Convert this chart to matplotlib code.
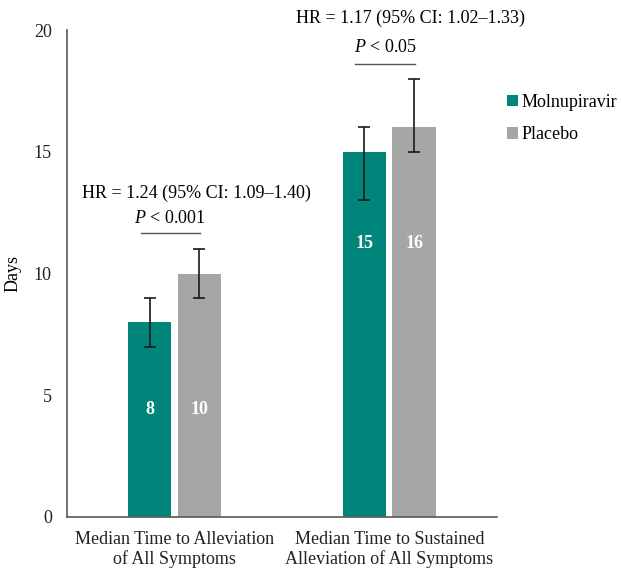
import matplotlib
matplotlib.use("Agg")
import matplotlib.pyplot as plt
import numpy as np

categories = ["Median Time to Alleviation\nof All Symptoms",
              "Median Time to Sustained\nAlleviation of All Symptoms"]
series = ["Molnupiravir", "Placebo"]
molnupiravir = [8, 15]
placebo = [10, 16]
mol_ci_low = [7, 13]
mol_ci_high = [9, 16]
pla_ci_low = [9, 15]
pla_ci_high = [11, 18]
hr_texts = ["HR = 1.24 (95% CI: 1.09\u20131.40)", "HR = 1.17 (95% CI: 1.02\u20131.33)"]
p_texts = [r"$\it{P}$ < 0.001", r"$\it{P}$ < 0.05"]
value_label_y = [4.4, 11.25]
hr_y = [13.3, 20.5]
p_y = [12.25, 19.3]
line_y = [11.66, 18.6]
yticks = [0, 5, 10, 15, 20]

plt.rcParams['font.family'] = ['Liberation Serif', 'DejaVu Serif']
plt.rcParams['mathtext.fontset'] = 'custom'
plt.rcParams['mathtext.it'] = 'Liberation Serif:italic'
plt.rcParams['mathtext.rm'] = 'Liberation Serif'

teal = "#00857a"
gray = "#a6a6a6"
fs = 13

fig = plt.figure(figsize=(6.21, 5.69), dpi=100)
ax = fig.add_axes([0.108, 0.0914, 0.692, 0.8558])

x = np.arange(len(categories))
w = 0.204
off = 0.116
ax.bar(x - off, molnupiravir, w, color=teal, label=series[0], zorder=2)
ax.bar(x + off, placebo, w, color=gray, label=series[1], zorder=2)

mol = np.array(molnupiravir); pla = np.array(placebo)
ax.errorbar(x - off, mol,
            yerr=[mol - np.array(mol_ci_low), np.array(mol_ci_high) - mol],
            fmt='none', ecolor='#1a1a1a', elinewidth=1.2, capsize=4, capthick=1.2, zorder=3)
ax.errorbar(x + off, pla,
            yerr=[pla - np.array(pla_ci_low), np.array(pla_ci_high) - pla],
            fmt='none', ecolor='#1a1a1a', elinewidth=1.2, capsize=4, capthick=1.2, zorder=3)

for i in range(len(categories)):
    ax.text(x[i] - off, value_label_y[i], str(molnupiravir[i]), color='white',
            fontweight='bold', ha='center', va='center', fontsize=fs, zorder=4)
    ax.text(x[i] + off, value_label_y[i], str(placebo[i]), color='white',
            fontweight='bold', ha='center', va='center', fontsize=fs, zorder=4)
    ax.text(x[i] + 0.1, hr_y[i], hr_texts[i], ha='center', va='center', fontsize=fs,
            clip_on=False)
    ax.text(x[i] - 0.02, p_y[i], p_texts[i], ha='center', va='center', fontsize=fs,
            clip_on=False)
    ax.plot([x[i] - 0.158, x[i] + 0.12], [line_y[i], line_y[i]], color='#555555',
            lw=1.0, clip_on=False)

ax.set_xlim(-0.5, 1.5)
ax.set_ylim(0, 20)
ax.set_yticks(yticks)
ax.set_xticks(x)
ax.set_xticklabels(categories, fontsize=fs, linespacing=1.15)
ax.tick_params(axis='both', length=0, labelsize=fs, colors='#222222')
ax.tick_params(axis='y', pad=11)
ax.tick_params(axis='x', pad=10)
for s in ['top', 'right']:
    ax.spines[s].set_visible(False)
for s in ['left', 'bottom']:
    ax.spines[s].set_color('#595959')
    ax.spines[s].set_linewidth(1.2)
ax.set_ylabel("Days", fontsize=fs, labelpad=9)

ax.legend(loc='upper left', bbox_to_anchor=(1.012, 0.88), frameon=False, fontsize=fs,
          handlelength=0.6, handleheight=0.6, handletextpad=0.2, labelspacing=0.85,
          borderaxespad=0.0, borderpad=0.3)

fig.savefig("out.png", dpi=100)
